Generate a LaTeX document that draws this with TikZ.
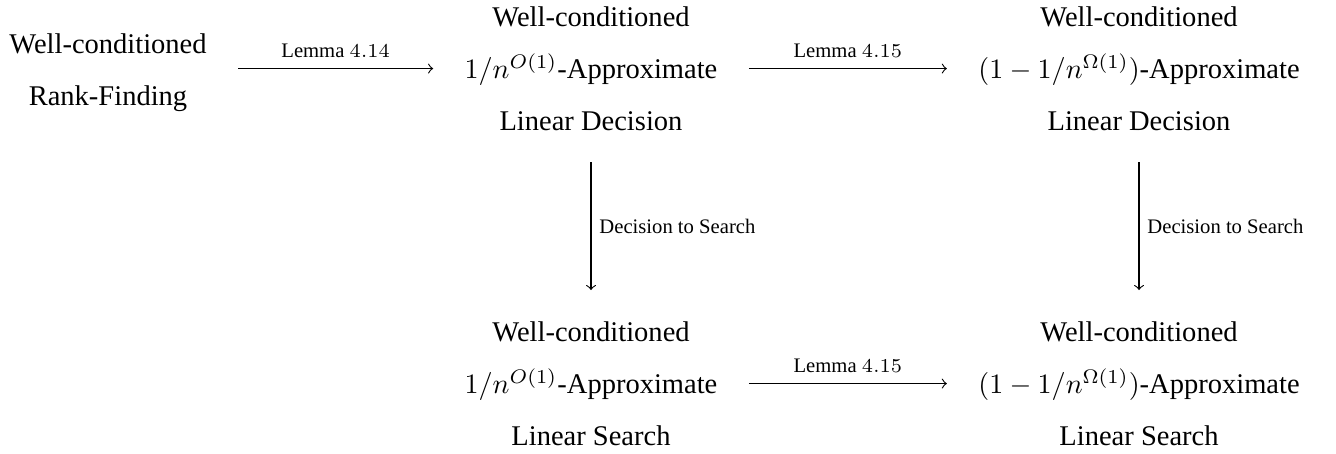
\documentclass[tikz,border=0pt]{standalone}
\usepackage[no-math]{fontspec}
\setmainfont{Liberation Serif}
\begin{document}
\begin{tikzpicture}[x=0.356pt,y=-0.356pt,
  block/.style={align=center,font=\fontsize{10.15}{18.5}\selectfont,inner sep=0pt},
  arr/.style={->,line width=0.4pt,shorten <=11pt,shorten >=11pt},
  hlbl/.style={font=\fontsize{7.35}{9}\selectfont,above,inner sep=3.5pt},
  vlbl/.style={font=\fontsize{7.35}{9}\selectfont,right,inner sep=2.8pt}]
\useasboundingbox (0,0) rectangle (1336,454);
\node[block,anchor=north] (L) at (108,33) {Well-conditioned\\Rank-Finding};
\node[block,anchor=north] (A) at (591,6) {Well-conditioned\\$1/n^{O(1)}$-Approximate\\Linear Decision};
\node[block,anchor=north] (B) at (1139,6) {Well-conditioned\\$(1-1/n^{\Omega(1)})$-Approximate\\Linear Decision};
\node[block,anchor=north] (C) at (591,321) {Well-conditioned\\$1/n^{O(1)}$-Approximate\\Linear Search};
\node[block,anchor=north] (D) at (1139,321) {Well-conditioned\\$(1-1/n^{\Omega(1)})$-Approximate\\Linear Search};
\draw[arr] (L.east |- A.west) -- node[hlbl] {Lemma $4.14$} (A.west);
\draw[arr] (A.east) -- node[hlbl] {Lemma $4.15$} (B.west);
\draw[arr] (C.east) -- node[hlbl] {Lemma $4.15$} (D.west);
\draw[arr] (A.south) -- node[vlbl] {Decision to Search} (C.north);
\draw[arr] (B.south) -- node[vlbl] {Decision to Search} (D.north);
\end{tikzpicture}
\end{document}
